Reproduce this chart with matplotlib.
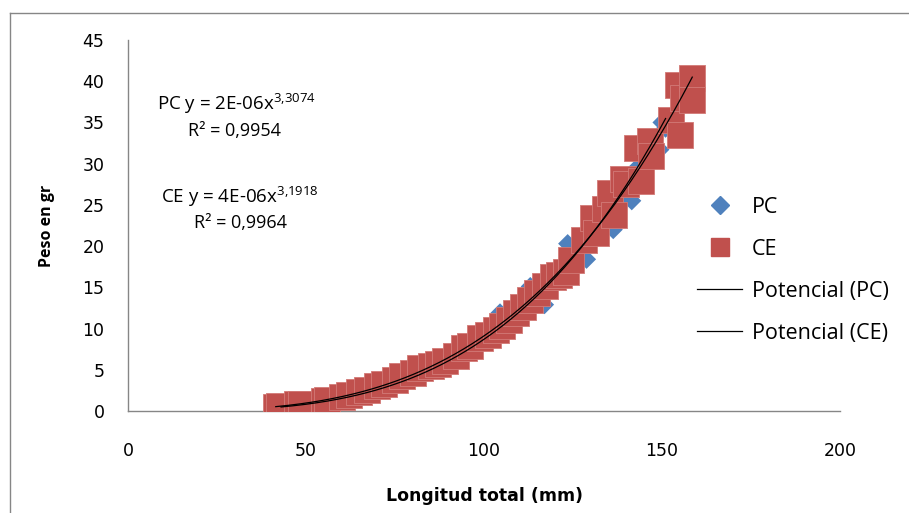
import numpy as np
import matplotlib
matplotlib.use("Agg")
import matplotlib.pyplot as plt
from matplotlib.lines import Line2D

# ---- data ----
pc_x = [43, 45, 47, 50, 53, 57, 60, 63, 66, 69, 72, 75, 78, 81, 84, 87, 90, 93, 96, 99,
        102, 104.5, 107, 110, 113, 115, 117, 118, 120, 121, 123.5, 125, 126, 128.8, 130,
        132, 134, 136.3, 138, 140, 141.5, 143, 145, 147, 149.4, 150, 151]
pc_y = [0.4, 0.5, 0.6, 0.8, 1.1, 1.3, 1.6, 1.9, 2.2, 2.6, 3.0, 3.4, 3.9, 4.4, 5.0, 5.6,
        6.3, 7.0, 7.8, 8.6, 9.5, 11.9, 10.6, 12.4, 15.1, 13.4, 12.9, 15.8, 15.9, 17.0,
        20.3, 19.0, 18.0, 18.4, 21.8, 21.2, 24.0, 22.0, 26.0, 27.8, 25.5, 29.5, 30.0,
        32.5, 31.7, 35.0, 34.3]

ce_x = [41.5, 42.5, 47.5, 48.5, 55, 56, 60, 62, 65, 67, 70, 72, 75, 77, 80, 82, 85, 87,
        89, 92, 94.5, 96, 99, 101, 103.5, 105, 107, 109, 111, 113, 115, 117, 119.5, 121,
        123, 124.5, 128, 130.5, 131.5, 134, 135.5, 136.5, 139, 140, 143, 144, 146.5, 147,
        152.5, 155, 154.5, 156, 158.3, 158.5]
ce_y = [0.5, 0.6, 0.8, 0.9, 1.2, 1.3, 1.7, 1.9, 2.3, 2.5, 3.0, 3.3, 3.8, 4.3, 4.6, 5.2,
        5.4, 5.7, 6.1, 6.7, 7.6, 7.9, 8.8, 9.2, 9.8, 10.3, 11.0, 11.9, 12.6, 13.5, 14.3,
        15.2, 16.2, 16.5, 16.8, 18.3, 20.8, 23.4, 21.6, 24.5, 26.4, 23.8, 28.2, 27.5, 31.9,
        27.9, 32.7, 30.9, 35.3, 33.5, 39.5, 38.0, 40.4, 37.7]

series_names = ["PC", "CE"]
trend_names = ["Potencial (PC)", "Potencial (CE)"]
eq_lines = ["PC y = 2E-06x$^{3{,}3074}$", "R\u00b2 = 0,9954",
            "CE y = 4E-06x$^{3{,}1918}$", "R\u00b2 = 0,9964"]
x_ticks = [0, 50, 100, 150, 200]
y_ticks = [0, 5, 10, 15, 20, 25, 30, 35, 40, 45]

BLUE = "#4F81BD"
RED = "#C0504D"
FONT = "Open Sans"
plt.rcParams["font.family"] = [FONT, "DejaVu Sans"]
plt.rcParams["mathtext.fontset"] = "custom"
plt.rcParams["mathtext.rm"] = FONT
plt.rcParams["mathtext.it"] = FONT
plt.rcParams["mathtext.default"] = "regular"

W, H = 909, 513
fig = plt.figure(figsize=(W / 100, H / 100), dpi=100)
ax = fig.add_axes([128 / W, 1 - 411 / H, (840 - 128) / W, (411 - 40) / H])

# outer chart border (left and top visible)
fig.add_artist(Line2D([10 / W, 10 / W], [0, 1 - 13 / H], color="#868686", lw=1.0,
                      transform=fig.transFigure))
fig.add_artist(Line2D([10 / W, 1], [1 - 13 / H, 1 - 13 / H], color="#868686", lw=1.0,
                      transform=fig.transFigure))

ax.scatter(pc_x, pc_y, marker="D", s=95, color=BLUE, edgecolors="none", zorder=2)
ax.scatter(ce_x, ce_y, marker="s", s=340, color=RED, edgecolors="#D27A77",
           linewidths=0.6, zorder=3)


def power_fit(x, y):
    x = np.asarray(x, float)
    y = np.asarray(y, float)
    b, lna = np.polyfit(np.log(x), np.log(y), 1)
    xs = np.linspace(x.min(), x.max(), 200)
    return xs, np.exp(lna) * xs ** b


for xs_, ys_ in (power_fit(pc_x, pc_y), power_fit(ce_x, ce_y)):
    ax.plot(xs_, ys_, color="black", lw=0.9, zorder=4)

ax.set_xlim(0, 200)
ax.set_ylim(0, 45)
ax.set_xticks(x_ticks)
ax.set_yticks(y_ticks)
ax.tick_params(axis="both", length=0, labelsize=12.5, colors="#000000")
ax.tick_params(axis="y", pad=17)
ax.tick_params(axis="x", pad=22)
for lab in ax.get_xticklabels() + ax.get_yticklabels():
    lab.set_family("DejaVu Sans")
for s in ("top", "right"):
    ax.spines[s].set_visible(False)
for s in ("left", "bottom"):
    ax.spines[s].set_color("#868686")
    ax.spines[s].set_linewidth(1.0)

ax.set_xlabel("Longitud total (mm)", fontsize=12.5, fontweight="bold", labelpad=20,
              family="DejaVu Sans")
ax.set_ylabel("Peso en gr", fontsize=11.5, fontweight="bold", labelpad=20)

# trendline equations
eq_pos = [(236, 104), (234, 131), (240, 197), (241, 223)]
eq_size = [13.5, 13, 13.5, 13]
for (px, py), txt, fs in zip(eq_pos, eq_lines, eq_size):
    fig.text(px / W, 1 - py / H, txt, ha="center", va="center", fontsize=fs)

handles = [
    Line2D([], [], marker="D", color=BLUE, linestyle="none", markersize=9),
    Line2D([], [], marker="s", color=RED, linestyle="none", markersize=13),
    Line2D([], [], color="black", lw=0.9),
    Line2D([], [], color="black", lw=0.9),
]
labels = series_names + trend_names
fig.legend(handles, labels, loc="upper left", bbox_to_anchor=(697 / W, 1 - 197 / H),
           frameon=False, fontsize=15.5, handlelength=2.1, handletextpad=0.45,
           labelspacing=0.97, borderpad=0, borderaxespad=0)

fig.savefig("out.png", dpi=100)
